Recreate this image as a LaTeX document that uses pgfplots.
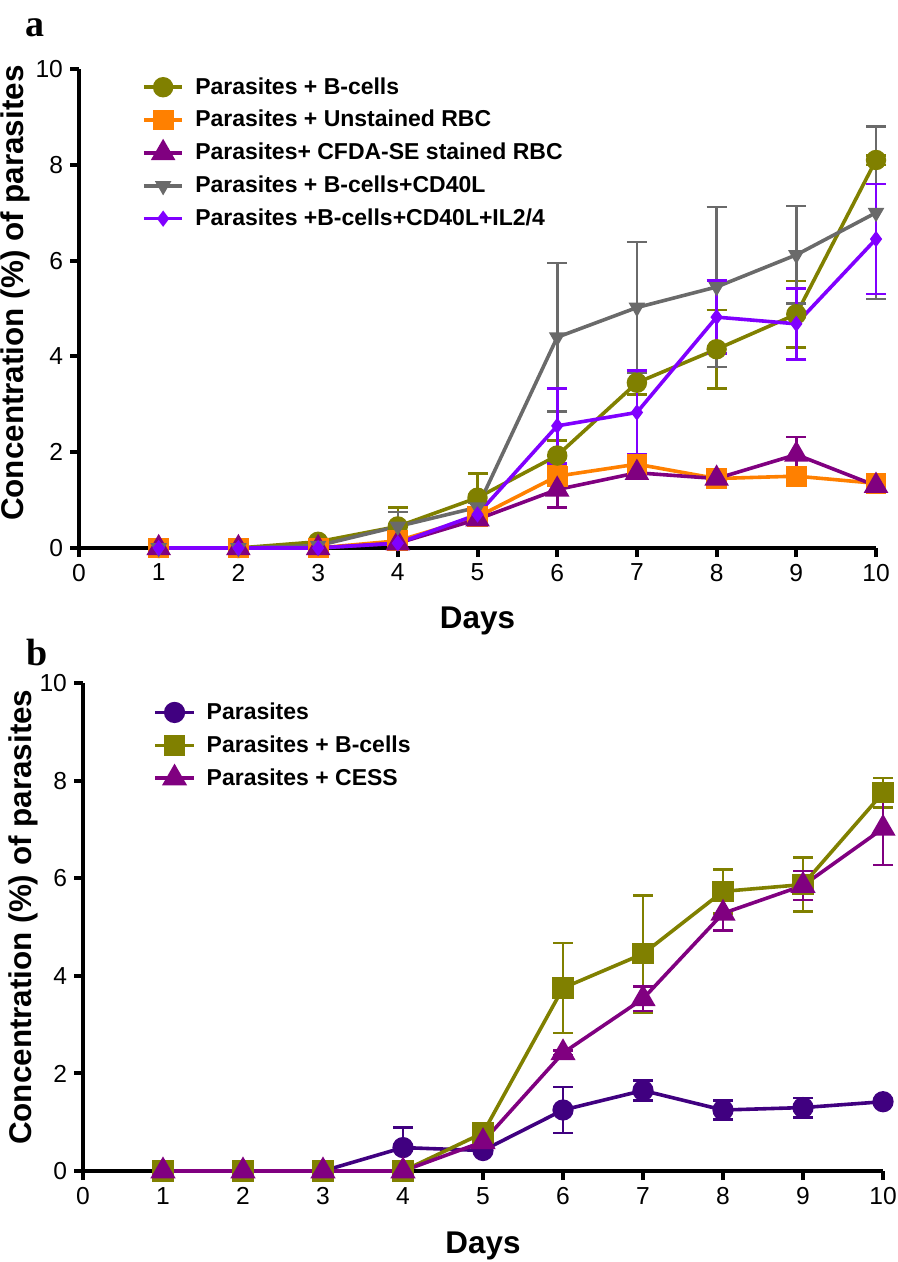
\documentclass[border=0pt]{standalone}
\usepackage{fontspec}
\setmainfont{Liberation Sans}
\newfontfamily\serifbf{Liberation Serif}
\usepackage{pgfplots}
\pgfplotsset{compat=1.18}
\definecolor{cOlive}{HTML}{808000}
\definecolor{cOrange}{HTML}{FF8000}
\definecolor{cPurple}{HTML}{800080}
\definecolor{cGray}{HTML}{6A6A6A}
\definecolor{cViolet}{HTML}{8000FF}
\definecolor{cIndigo}{HTML}{400080}
\pgfplotsset{
  myaxis/.style={
    scale only axis,
    axis x line=bottom, axis y line=left,
    axis line style={-, line width=2pt, black},
    xmin=0, xmax=10, ymin=0, ymax=10,
    xtick={0,...,10}, ytick={0,2,...,10},
    tick align=outside, major tick length=4.5pt,
    tick style={line width=2pt, black},
    ticklabel style={font=\fontsize{12.3}{12.3}\selectfont},
    /pgf/number format/assume math mode=true,
    label style={font=\fontsize{15.7}{16}\selectfont\bfseries},
    xlabel={Days},
    ylabel={Concentration (\%) of parasites},
    legend cell align=left,
    legend style={draw=none, fill=none, anchor=north west,
      font=\fontsize{11.5}{12}\selectfont\bfseries, row sep=2.6pt,
      /tikz/every odd column/.style={column sep=3.5pt}},
    legend image code/.code={\draw[mark repeat=2, mark phase=2] plot coordinates {(0cm,0cm) (0.34cm,0cm) (0.68cm,0cm)};},
    clip=false,
  },
  ser/.style n args={3}{color=#1, mark=#2, mark size=#3, line width=1.8pt,
    mark options={solid, fill=#1, draw=#1},
    error bars/y dir=both, error bars/y explicit,
    error bars/error bar style={line width=1.3pt, color=#1, solid},
    error bars/error mark options={rotate=90, mark size=5pt, line width=1.3pt, color=#1}},
}
\begin{document}
\begin{tikzpicture}
\useasboundingbox (0,0) rectangle (449pt,-631pt);
\node[anchor=base west, inner sep=0pt, font=\serifbf\bfseries\fontsize{19}{19}\selectfont] at (12.5pt,-18.5pt) {a};
\node[anchor=base west, inner sep=0pt, font=\serifbf\bfseries\fontsize{19}{19}\selectfont] at (13pt,-332.5pt) {b};
% ---------- panel a ----------
\begin{axis}[myaxis, at={(39.5pt,-274pt)}, anchor=south west,
  width=398.5pt, height=239.5pt,
  xlabel style={at={([yshift=-40pt]axis description cs:0.5,0)}, anchor=base},
  ylabel style={at={([xshift=-27.5pt]axis description cs:0,0.532)}, anchor=base},
  legend style={at={(axis description cs:0.071,1.0)}},
]
\addplot[ser={cOlive}{*}{4.2pt}] coordinates {
 (1,0) +- (0,0) (2,0) +- (0,0) (3,0.13) +- (0,0.02) (4,0.45) +- (0,0.40)
 (5,1.05) +- (0,0.50) (6,1.93) +- (0,0.32) (7,3.45) +- (0,0.25)
 (8,4.15) +- (0,0.82) (9,4.88) +- (0,0.69) (10,8.10) +- (0,0.10)};
\addlegendentry{Parasites + B-cells}
\addplot[ser={cOrange}{square*}{4.3pt}] coordinates {
 (1,0) +- (0,0) (2,0) +- (0,0) (3,0) +- (0,0) (4,0.15) +- (0,0.15)
 (5,0.65) +- (0,0.05) (6,1.50) +- (0,0.20) (7,1.75) +- (0,0.15)
 (8,1.45) +- (0,0.05) (9,1.50) +- (0,0.12) (10,1.35) +- (0,0.05)};
\addlegendentry{Parasites + Unstained RBC}
\addplot[ser={cPurple}{triangle*}{5.3pt}] coordinates {
 (1,0) +- (0,0) (2,0) +- (0,0) (3,0) +- (0,0) (4,0.10) +- (0,0.05)
 (5,0.60) +- (0,0.05) (6,1.22) +- (0,0.38) (7,1.57) +- (0,0.10)
 (8,1.45) +- (0,0.05) (9,1.95) +- (0,0.37) (10,1.30) +- (0,0.05)};
\addlegendentry{Parasites+ CFDA-SE stained RBC}
\addplot[ser={cGray}{triangle*}{3pt}, mark options={rotate=180}] coordinates {
 (1,0) +- (0,0) (2,0) +- (0,0) (3,0.05) +- (0,0.02) (4,0.45) +- (0,0.30)
 (5,0.85) +- (0,0.10) (6,4.40) +- (0,1.55) (7,5.02) +- (0,1.37)
 (8,5.45) +- (0,1.67) (9,6.12) +- (0,1.02) (10,7.00) +- (0,1.80)};
\addlegendentry{Parasites + B-cells+CD40L}
\addplot[ser={cViolet}{diamond*}{2.6pt}] coordinates {
 (1,0) +- (0,0) (2,0) +- (0,0) (3,0) +- (0,0) (4,0.10) +- (0,0.05)
 (5,0.70) +- (0,0.10) (6,2.55) +- (0,0.78) (7,2.83) +- (0,0.88)
 (8,4.82) +- (0,0.76) (9,4.68) +- (0,0.74) (10,6.45) +- (0,1.15)};
\addlegendentry{Parasites +B-cells+CD40L+IL2/4}
\end{axis}
% ---------- panel b ----------
\begin{axis}[myaxis, at={(41.5pt,-585.5pt)}, anchor=south west,
  width=400pt, height=244pt,
  xlabel style={at={([yshift=-41pt]axis description cs:0.5,0)}, anchor=base},
  ylabel style={at={([xshift=-25.5pt]axis description cs:0,0.52)}, anchor=base},
  legend style={at={(axis description cs:0.08,0.977)}},
]
\addplot[ser={cIndigo}{*}{4.4pt}] coordinates {
 (1,0) +- (0,0) (2,0) +- (0,0) (3,0) +- (0,0) (4,0.48) +- (0,0.41)
 (5,0.42) +- (0,0.05) (6,1.25) +- (0,0.47) (7,1.65) +- (0,0.20)
 (8,1.25) +- (0,0.20) (9,1.30) +- (0,0.20) (10,1.42) +- (0,0.05)};
\addlegendentry{Parasites}
\addplot[ser={cOlive}{square*}{4.4pt}] coordinates {
 (1,0) +- (0,0) (2,0) +- (0,0) (3,0) +- (0,0) (4,0) +- (0,0)
 (5,0.78) +- (0,0.05) (6,3.75) +- (0,0.92) (7,4.45) +- (0,1.20)
 (8,5.73) +- (0,0.45) (9,5.87) +- (0,0.55) (10,7.75) +- (0,0.30)};
\addlegendentry{Parasites + B-cells}
\addplot[ser={cPurple}{triangle*}{5.5pt}] coordinates {
 (1,0) +- (0,0) (2,0) +- (0,0) (3,0) +- (0,0) (4,0) +- (0,0)
 (5,0.60) +- (0,0.05) (6,2.42) +- (0,0.05) (7,3.53) +- (0,0.25)
 (8,5.28) +- (0,0.35) (9,5.85) +- (0,0.30) (10,7.02) +- (0,0.75)};
\addlegendentry{Parasites + CESS}
\end{axis}
\end{tikzpicture}
\end{document}
